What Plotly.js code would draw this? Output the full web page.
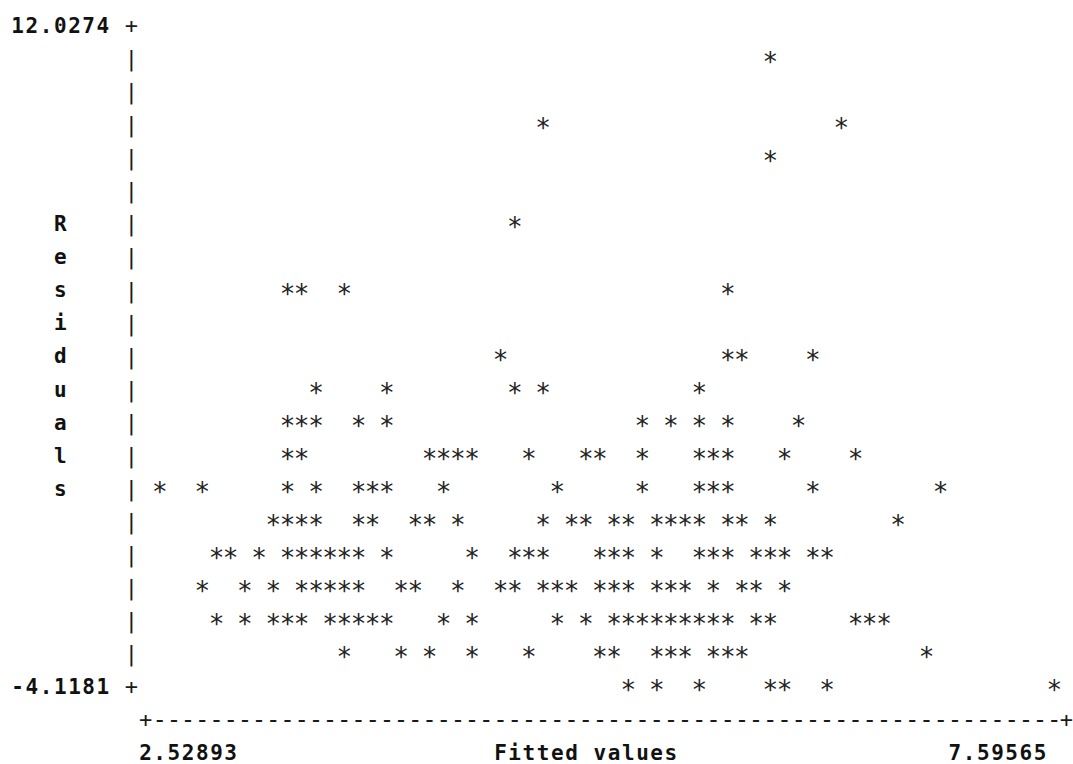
<!DOCTYPE html>
<html><head><meta charset="utf-8">
<script src="https://cdn.plot.ly/plotly-3.0.1.min.js"></script>
<style>html,body{margin:0;padding:0;background:#fff;}</style>
</head><body>
<div id="chart" style="width:1073px;height:764px;"></div>
<script>
// ---- axis extremes printed on the chart ----
const fittedMin = 2.52893, fittedMax = 7.59565;
const residMax = 12.0274, residMin = -4.1181;
const xTitle = "Fitted values";
const yTitle = "Residuals";
const fittedMinLabel = "2.52893", fittedMaxLabel = "7.59565";
const residMaxLabel = "12.0274", residMinLabel = "-4.1181";

// ---- residual level of each printed row (top to bottom) ----
const residualLevels = [11.220, 10.413, 9.606, 8.798, 7.991, 7.184, 6.376, 5.569, 4.762, 3.955,
                        3.147, 2.340, 1.533, 0.726, -0.082, -0.889, -1.696, -2.504, -3.311, -4.118];

// ---- fitted values of the points at each residual level ----
const fit01 = [5.987];
const fit02 = [];
const fit03 = [4.700, 6.389];
const fit04 = [5.987];
const fit05 = [];
const fit06 = [4.540];
const fit07 = [];
const fit08 = [3.253, 3.333, 3.574, 5.746];
const fit09 = [];
const fit10 = [4.459, 5.746, 5.826, 6.228];
const fit11 = [3.414, 3.816, 4.540, 4.700, 5.585];
const fit12 = [3.253, 3.333, 3.414, 3.655, 3.816, 5.263, 5.424, 5.585, 5.746, 6.148];
const fit13 = [3.253, 3.333, 4.057, 4.137, 4.218, 4.298, 4.620, 4.942, 5.022, 5.263, 5.585, 5.665, 5.746, 6.068, 6.470];
const fit14 = [2.529, 2.770, 3.253, 3.414, 3.655, 3.735, 3.816, 4.137, 4.781, 5.263, 5.585, 5.665, 5.746, 6.228, 6.952];
const fit15 = [3.172, 3.253, 3.333, 3.414, 3.655, 3.735, 3.977, 4.057, 4.218, 4.700, 4.861, 4.942, 5.103, 5.183, 5.344, 5.424, 5.505, 5.585, 5.746, 5.826, 5.987, 6.711];
const fit16 = [2.851, 2.931, 3.092, 3.253, 3.333, 3.414, 3.494, 3.574, 3.655, 3.816, 4.298, 4.540, 4.620, 4.700, 5.022, 5.103, 5.183, 5.344, 5.585, 5.665, 5.746, 5.907, 5.987, 6.068, 6.228, 6.309];
const fit17 = [2.770, 3.011, 3.172, 3.333, 3.414, 3.494, 3.574, 3.655, 3.896, 3.977, 4.218, 4.459, 4.540, 4.700, 4.781, 4.861, 5.022, 5.103, 5.183, 5.344, 5.424, 5.505, 5.665, 5.826, 5.907, 6.068];
const fit18 = [2.851, 3.011, 3.172, 3.253, 3.333, 3.494, 3.574, 3.655, 3.735, 3.816, 4.137, 4.298, 4.781, 4.942, 5.103, 5.183, 5.263, 5.344, 5.424, 5.505, 5.585, 5.665, 5.746, 5.907, 5.987, 6.470, 6.550, 6.631];
const fit19 = [3.574, 3.896, 4.057, 4.298, 4.620, 5.022, 5.103, 5.344, 5.424, 5.505, 5.665, 5.746, 5.826, 6.872];
const fit20 = [5.183, 5.344, 5.585, 5.987, 6.068, 6.309, 7.596];

const fitRows = [fit01, fit02, fit03, fit04, fit05, fit06, fit07, fit08, fit09, fit10,
                 fit11, fit12, fit13, fit14, fit15, fit16, fit17, fit18, fit19, fit20];

const px = [], py = [];
fitRows.forEach((row, i) => row.forEach(v => { px.push(v); py.push(residualLevels[i]); }));

// ---- character-grid layout (text-mode plot) ----
const W = 1073, H = 764;
const NCOL = 63, NROW = 20;            // columns 1..64 span min..max, rows 0..20 span max..min
const colW = 14.2, col0Px = 145.5;     // pixel centre of column 0 and column width
const rowH = 33.07, row0Px = 25;       // pixel centre of row 0 and row height
const starShift = 6.5;                 // px: asterisk glyph sits high in its line
const decoShift = 4;                   // px: lift for frame / label glyphs
const dx = (fittedMax - fittedMin) / NCOL;
const dy = (residMax - residMin) / NROW;
const colX = c => fittedMin + (c - 1) * dx;
const rowY = r => residMax - r * dy;
const xRange = [colX((0 - col0Px) / colW), colX((W - col0Px) / colW)];
const yRange = [rowY((H - row0Px - starShift) / rowH), rowY((0 - row0Px - starShift) / rowH)];

const FONT = '"DejaVu Sans Mono", "Liberation Mono", monospace';
const boldT = {x: [], y: [], t: []}, thinT = {x: [], y: [], t: []}, dashT = {x: [], y: [], t: []};
function put(store, str, c0, r) {
  [...str].forEach((ch, i) => {
    if (ch === ' ') return;
    store.x.push(colX(c0 + i)); store.y.push(rowY(r - decoShift / rowH)); store.t.push(ch);
  });
}
// y axis
put(boldT, residMaxLabel, -9, 0);
put(boldT, residMinLabel, -9, NROW);
put(thinT, '+', -1, 0);
put(thinT, '+', -1, NROW);
for (let r = 1; r < NROW; r++) put(thinT, '|', -1, r);
[...yTitle].forEach((ch, i) => put(boldT, ch, -6, 6 + i));
// x axis
put(thinT, '+', 0, 21);
put(dashT, '-'.repeat(64), 1, 21);
put(thinT, '+', 64.85, 21);
put(boldT, fittedMinLabel, 0, 22);
put(boldT, xTitle, 25, 22);
put(boldT, fittedMaxLabel, 64 - fittedMaxLabel.length, 22);

const traces = [
  {type: 'scatter', mode: 'text', x: px, y: py, text: px.map(() => '*'),
   textposition: 'middle center', hoverinfo: 'x+y',
   textfont: {family: FONT, size: 26, color: '#222'}, showlegend: false},
  {type: 'scatter', mode: 'text', x: thinT.x, y: thinT.y, text: thinT.t,
   textposition: 'middle center', hoverinfo: 'skip',
   textfont: {family: FONT, size: 22, color: '#1a1a1a'}, showlegend: false},
  {type: 'scatter', mode: 'text', x: dashT.x, y: dashT.y, text: dashT.t,
   textposition: 'middle center', hoverinfo: 'skip',
   textfont: {family: FONT, size: 24, color: '#1a1a1a'}, showlegend: false},
  {type: 'scatter', mode: 'text', x: boldT.x, y: boldT.y, text: boldT.t,
   textposition: 'middle center', hoverinfo: 'skip',
   textfont: {family: FONT, size: 21, color: '#111', weight: 'bold'}, showlegend: false}
];

const hidden = {visible: false, showgrid: false, zeroline: false, fixedrange: true};
const layout = {
  width: W, height: H,
  margin: {l: 0, r: 0, t: 0, b: 0, pad: 0},
  paper_bgcolor: '#fff', plot_bgcolor: '#fff',
  xaxis: Object.assign({range: xRange}, hidden),
  yaxis: Object.assign({range: yRange}, hidden),
  showlegend: false
};
Plotly.newPlot('chart', traces, layout, {displayModeBar: false, staticPlot: true});
</script>
</body></html>
